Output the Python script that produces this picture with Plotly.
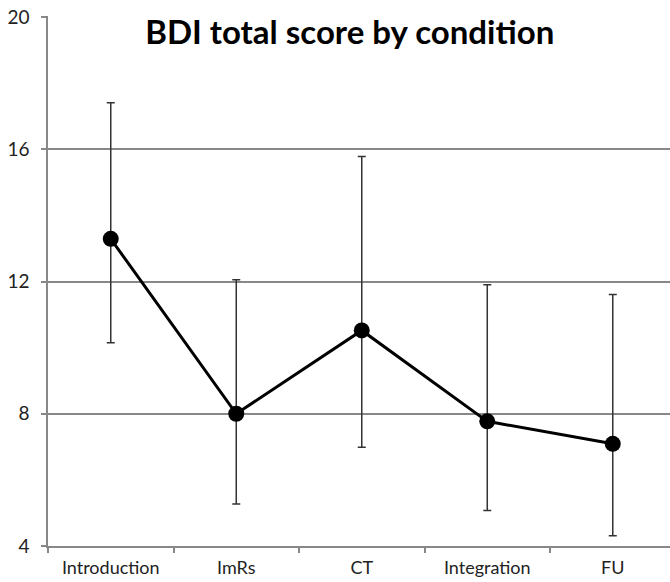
import plotly.graph_objects as go

categories = ["Introduction", "ImRs", "CT", "Integration", "FU"]
means = [13.29, 8.0, 10.52, 7.77, 7.09]
upper = [17.41, 12.05, 15.78, 11.90, 11.61]
lower = [10.15, 5.27, 6.99, 5.07, 4.31]
y_ticks = [4, 8, 12, 16, 20]

err_plus = [u - m for u, m in zip(upper, means)]
err_minus = [m - l for m, l in zip(means, lower)]

fig = go.Figure()
fig.add_trace(go.Scatter(
    x=categories, y=means, mode="lines+markers",
    line=dict(color="black", width=3),
    marker=dict(color="black", size=16),
    error_y=dict(type="data", symmetric=False, array=err_plus, arrayminus=err_minus,
                 color="#333333", thickness=1.5, width=4),
    cliponaxis=False,
))

fig.update_layout(
    width=670, height=582,
    margin=dict(l=48, r=0, t=16, b=36, autoexpand=False),
    paper_bgcolor="white", plot_bgcolor="white",
    showlegend=False,
    font=dict(family="Lato, Open Sans, sans-serif", color="#222222", size=18),
    title=dict(text="<b>BDI total score by condition</b>", x=0.522, xanchor="center",
               y=0.945, yanchor="middle", font=dict(size=33, color="black")),
)
fig.update_xaxes(
    type="category", range=[-0.5, 4.456], tickson="boundaries",
    ticks="outside", ticklen=5, tickcolor="#888888", tickwidth=1.5,
    showline=True, linecolor="#888888", linewidth=1.5, showgrid=False,
    tickfont=dict(size=18), automargin=False, ticklabelstandoff=5,
    ticklabeloverflow="allow",
)
fig.update_yaxes(
    range=[4, 20.03], tickvals=y_ticks, ticks="outside", ticklen=5,
    tickcolor="#888888", tickwidth=1.5,
    showline=True, linecolor="#888888", linewidth=1.5,
    showgrid=True, gridcolor="#888888", gridwidth=1.5, zeroline=False,
    tickfont=dict(size=19), automargin=False, ticklabelstandoff=8,
    ticklabeloverflow="allow",
)

fig.write_html(
    "out.html",
    config={"displayModeBar": False},
    post_script="document.body.style.margin='0';document.body.style.overflow='hidden';",
)
